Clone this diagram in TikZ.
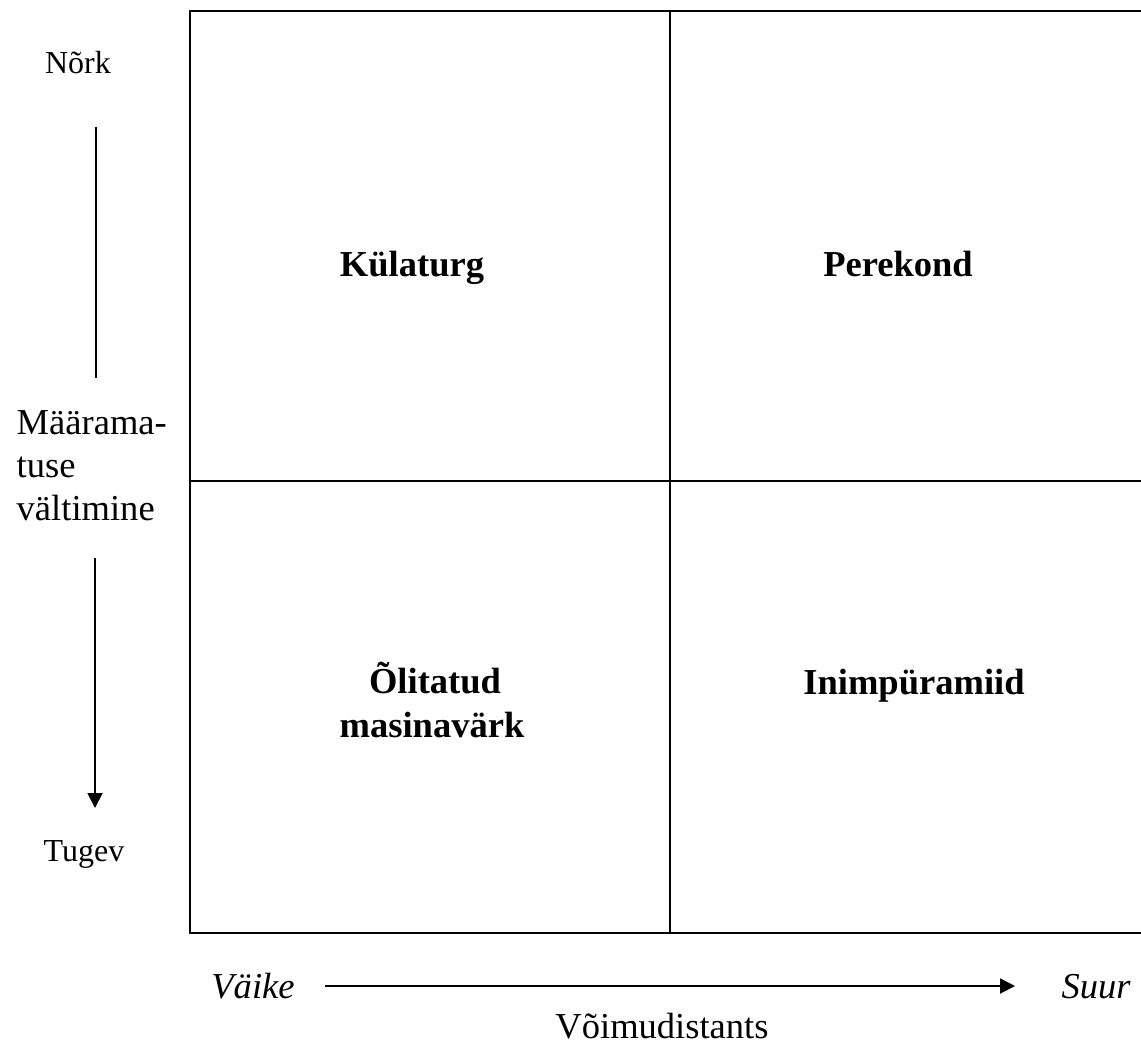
\documentclass[tikz,border=0pt]{standalone}
\usepackage{fontspec}
\setmainfont{Liberation Serif}
\usetikzlibrary{arrows.meta}
\tikzset{
  cell/.style={anchor=base, font=\bfseries\fontsize{27.4}{32.3}\selectfont},
  side/.style={anchor=base, font=\fontsize{24}{29}\selectfont},
  axis/.style={anchor=base, font=\fontsize{27.4}{32}\selectfont},
  arr/.style={line width=1.4pt, -{Triangle[length=11.25pt,width=11.25pt]}}
}
\begin{document}
\begin{tikzpicture}[x=0.75pt, y=-0.75pt]
  \useasboundingbox (0,0) rectangle (1141,1045);
  % Grid
  \draw[line width=1.6pt] (190,11) rectangle (1143,933);
  \draw[line width=1.6pt] (670,11) -- (670,933);
  \draw[line width=1.6pt] (190,481) -- (1143,481);
  % Nodes
  \node (k) [cell] at (412,276) {Külaturg};
  \node (p) [cell] at (898,276) {Perekond};
  \node (o) [cell, align=center] at (432,737) {\,Õlitatud\\masinavärk};
  \node (i) [cell] at (914,694) {Inimpüramiid};
  % Vertical axis
  \node (n) [side] at (78,74) {Nõrk};
  \node (m) [axis, anchor=base west, align=left, font=\fontsize{27.4}{31.9}\selectfont] at (12,520) {Määrama-\\tuse\\vältimine};
  \node (t) [side] at (84,861) {Tugev};
  \coordinate (v1) at (96,127);
  \coordinate (v2) at (96,378);
  \coordinate (v3) at (95,558);
  \coordinate (v4) at (95,808);
  \draw[line width=1.4pt] (v1) -- (v2);
  \draw[arr] (v3) -- (v4);
  % Horizontal axis
  \node (s) [axis, font=\itshape\fontsize{27.4}{32}\selectfont] at (253,998) {Väike};
  \node (l) [axis, font=\itshape\fontsize{27.4}{32}\selectfont] at (1096,998) {Suur};
  \node (d) [axis] at (662,1038) {Võimudistants};
  \coordinate (h1) at (325,986);
  \coordinate (h2) at (1015,986);
  \draw[arr] (h1) -- (h2);
\end{tikzpicture}
\end{document}
